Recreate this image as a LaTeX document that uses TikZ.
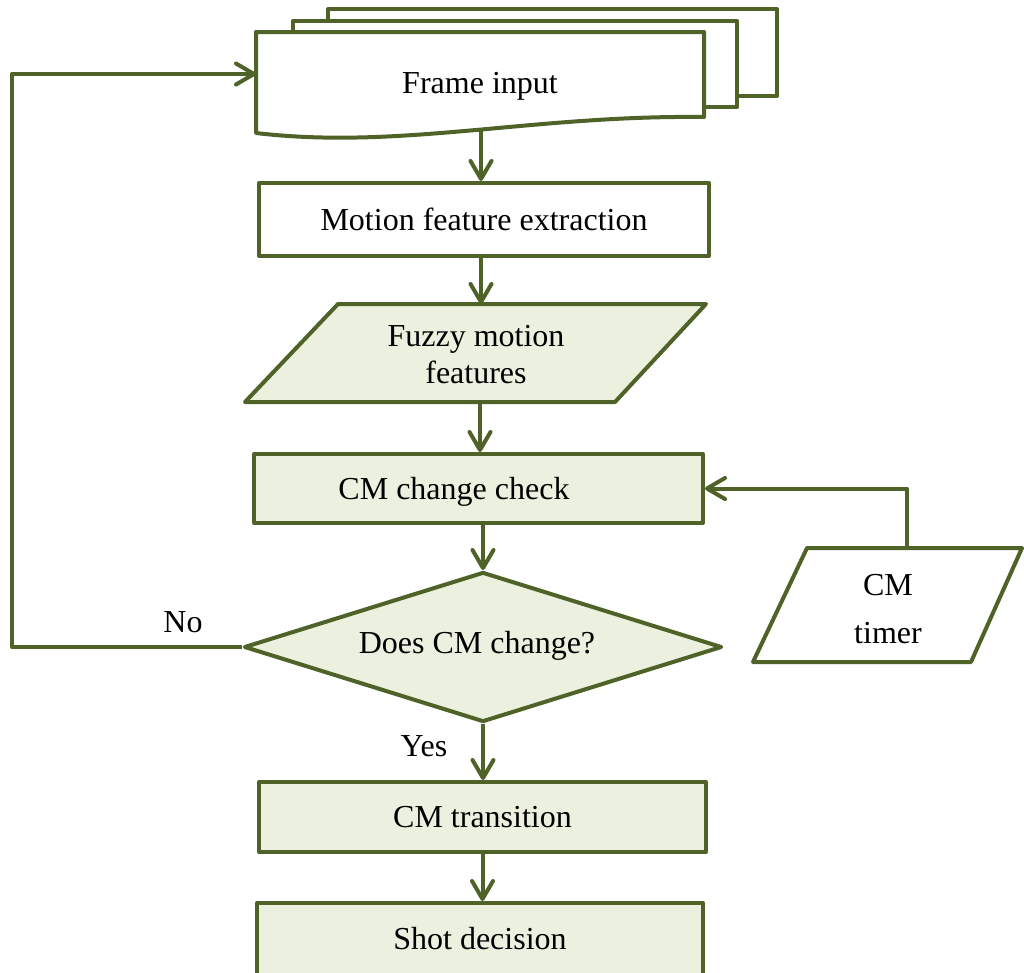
\documentclass[tikz,border=0pt]{standalone}
\usepackage{fontspec}
\setmainfont{Liberation Serif}
\usetikzlibrary{shapes.geometric,arrows.meta}
\definecolor{olive}{RGB}{79,98,40}
\definecolor{paleg}{RGB}{235,241,222}
\tikzset{
  txt/.style={font=\fontsize{32}{37}\selectfont, text=black, inner sep=0pt},
  shp/.style={draw=olive, line width=4pt, line join=round},
  box/.style={shp, rectangle, fill=paleg, inner sep=0pt, font=\fontsize{32}{37}\selectfont},
  wbox/.style={box, fill=white},
  conn/.style={draw=olive, line width=4pt, line join=round,
    -{Straight Barb[length=18pt,width=21pt,line cap=round,line join=round]}}
}
\begin{document}
\begin{tikzpicture}[x=1pt,y=-1pt]
\useasboundingbox (0,0) rectangle (1024,972);
\fill[white] (0,0) rectangle (1024,972);

% stacked document (Frame input)
\draw[shp, fill=white] (328,9) rectangle (777,96);
\draw[shp, fill=white] (293,21) rectangle (737,107);
\draw[shp, fill=white] (256,32) -- (704,32) -- (704,117)
   .. controls (530,115) and (400,150) .. (256,133) -- cycle;
\node[txt] (frame) at (480,86) {Frame input};
\coordinate (fw) at (256,74);
\coordinate (fb) at (481,131);

% motion feature extraction
\node[wbox, minimum width=450pt, minimum height=73pt] (motion) at (484,219.5) {Motion feature extraction};

% fuzzy motion features (parallelogram)
\draw[shp, fill=paleg] (338,304) -- (706,304) -- (615,402) -- (245,402) -- cycle;
\node[txt, align=center] (fuzzy) at (476,355) {Fuzzy motion\\features};
\coordinate (ftop) at (481,304);
\coordinate (fbot) at (480,402);

% CM change check
\node[box, minimum width=449pt, minimum height=69pt] (check) at (478.5,488.5) {};
\node[txt] (checklbl) at (454,492) {CM change check};

% decision
\node[shp, diamond, fill=paleg, minimum width=478pt, minimum height=150pt, inner sep=0pt] (dec) at (483,647) {};
\node[txt] (declbl) at (477,646) {Does CM change?};

% CM timer (parallelogram)
\draw[shp, fill=white] (807,548) -- (1022,548) -- (971,662) -- (753,662) -- cycle;
\node[txt, align=center, font=\fontsize{32}{48}\selectfont] (timer) at (888,609) {CM\\timer};
\coordinate (tt) at (907,548);

% CM transition and shot decision
\node[box, minimum width=447pt, minimum height=70pt] (trans) at (482.5,817) {CM transition};
\node[box, minimum width=446pt, minimum height=72pt] (shot) at (480,939) {Shot decision};

% labels
\node[txt] (no) at (183,622) {No};
\node[txt] (yes) at (424,746) {Yes};

% connectors
\coordinate (lc) at (12,647);
\draw[conn] (dec.west) -- (lc) |- (fw);
\draw[conn] (fb) -- (fb |- motion.north);
\draw[conn] (ftop |- motion.south) -- (ftop);
\draw[conn] (fbot) -- (fbot |- check.north);
\draw[conn] (dec.north |- check.south) -- (dec.north);
\draw[conn] (tt) |- (check.east);
\draw[conn] (dec.south) -- (dec.south |- trans.north);
\draw[conn] (trans.south) -- (trans.south |- shot.north);
\end{tikzpicture}
\end{document}
